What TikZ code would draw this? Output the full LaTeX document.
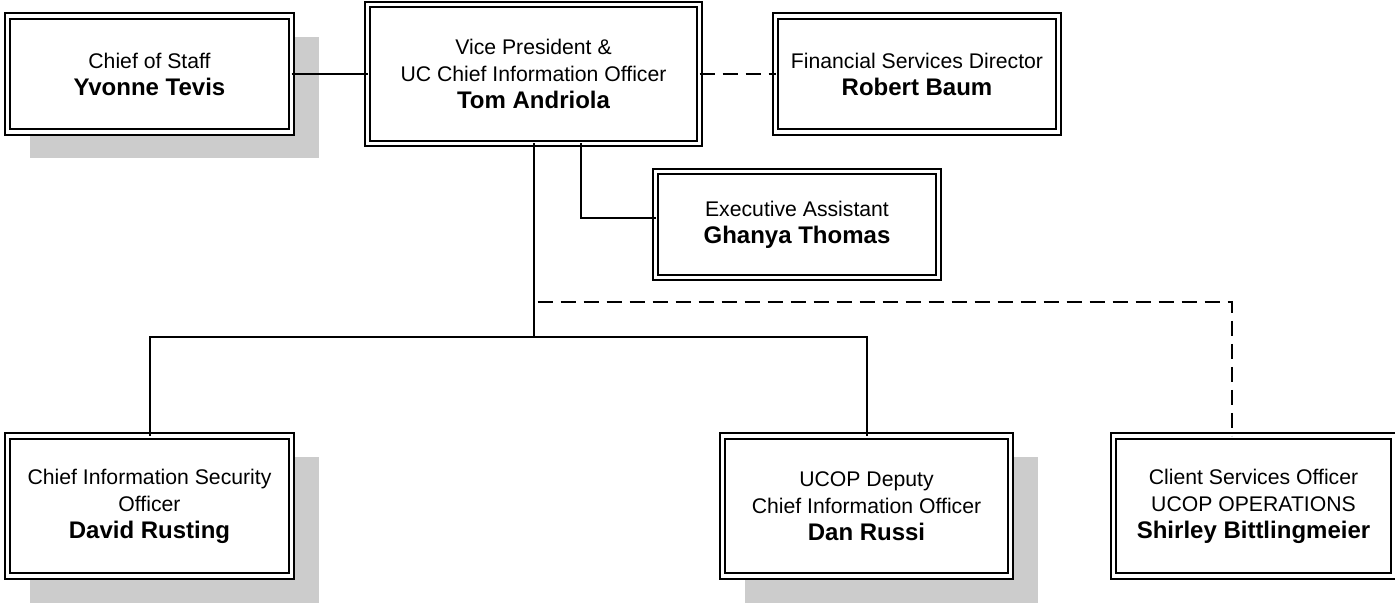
\documentclass[tikz,border=0pt]{standalone}
\usepackage{fontspec}
\setmainfont{Liberation Sans}
\usetikzlibrary{positioning,shadows}

\newcommand{\who}[1]{{\fontsize{12}{13.5}\selectfont\bfseries #1}}

\begin{document}
\begin{tikzpicture}
[line width=1pt,node distance=38pt,font=\fontsize{10.6}{13.5}\selectfont]

  \tikzstyle{post}=[draw=black,fill=white,double,double distance=1.8pt,line width=0.9pt,
                    align=center,outer sep=0pt,inner sep=2pt,minimum width=142pt,minimum height=58pt]
  \tikzstyle{shade}=[drop shadow={shadow xshift=12.5pt,shadow yshift=-12pt,fill=black!20,
                    draw=black!20,line width=2.5pt,opacity=1}]
  \tikzstyle{indirect}=[dash pattern=on 7.5pt off 4pt]

  \useasboundingbox (0,0) rectangle (697.5pt,302pt);

  \node[post,minimum width=166pt,minimum height=69.5pt] (vp) at (266.75pt,265pt)
        {Vice President \&\\UC Chief Information Officer\\\who{Tom Andriola}};
  \node[post,shade]                    (cos)  [left=of vp]  {Chief of Staff\\\who{Yvonne Tevis}};
  \node[post,minimum width=141.5pt]    (rb)   [right=of vp] {Financial Services Director\\\who{Robert Baum}};
  \node[post,minimum width=141.5pt,minimum height=53pt] (ea) [below right=14pt and -22pt of vp]
        {Executive Assistant\\\who{Ghanya Thomas}};
  \node[post,shade,minimum height=70pt] (ciso) [below=152pt of cos]
        {Chief Information Security\\Officer\\\who{David Rusting}};
  \node[post,shade,minimum width=144pt,minimum height=70pt] (dcio) [right=215.5pt of ciso]
        {UCOP Deputy\\Chief Information Officer\\\who{Dan Russi}};
  \node[post,minimum width=140pt,minimum height=70pt] (cso) [right=51.5pt of dcio]
        {Client Services Officer\\UCOP OPERATIONS\\\who{Shirley Bittlingmeier}};

  \coordinate (bus)  at ([yshift=-96.75pt]vp.south);
  \coordinate (dash) at ([yshift=-79.25pt]vp.south);

  \draw (cos) -- (vp);
  \draw[indirect] (vp) -- (rb);
  \draw ([xshift=23.75pt]vp.south) |- ([yshift=3.25pt]ea.west);
  \draw (vp) -- (bus);
  \draw (ciso) |- (bus) -| (dcio);
  \draw[indirect] ([xshift=2pt]dash) -| ([xshift=-11pt]cso.north);
\end{tikzpicture}
\end{document}
